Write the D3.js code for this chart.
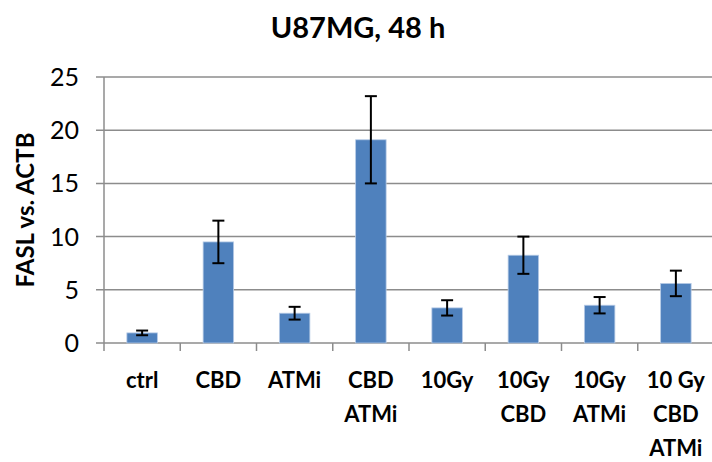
<!DOCTYPE html>
<html><head><meta charset="utf-8">
<script src="https://cdn.jsdelivr.net/npm/d3@7"></script>
<style>body{margin:0;background:#fff}svg{display:block}text{font-family:Lato,"Open Sans",sans-serif;font-weight:bold;fill:#000}</style>
</head><body><svg id="c" width="712" height="462"></svg>
<script>
const categories = [["ctrl"],["CBD"],["ATMi"],["CBD","ATMi"],["10Gy"],["10Gy","CBD"],["10Gy","ATMi"],["10 Gy","CBD","ATMi"]];
const values = [0.95, 9.5, 2.8, 19.1, 3.3, 8.25, 3.55, 5.6];
const errors = [0.22, 2.0, 0.6, 4.1, 0.72, 1.75, 0.77, 1.2];
const yTicks = [0, 5, 10, 15, 20, 25];
const title = "U87MG, 48 h";
const yTitle = "FASL vs. ACTB";

const svg = d3.select("#c");
const x = d3.scaleBand().domain(d3.range(categories.length)).range([104, 714]).paddingInner(0.6).paddingOuter(0.3);
const xb = d3.scaleBand().domain(d3.range(categories.length)).range([104, 714]);
const y = d3.scaleLinear().domain([0, 25]).range([343, 77]);

// gridlines
svg.append("g").selectAll("line").data(yTicks).join("line")
  .attr("x1", 96).attr("x2", 714).attr("y1", d => y(d)).attr("y2", d => y(d))
  .attr("stroke", "#8c8c8c").attr("stroke-width", 1.5);
// y axis line
svg.append("line").attr("x1", 104).attr("x2", 104).attr("y1", y(25)).attr("y2", y(0))
  .attr("stroke", "#8c8c8c").attr("stroke-width", 1.5);
// x ticks
svg.append("g").selectAll("line").data(d3.range(categories.length + 1)).join("line")
  .attr("x1", d => 104 + d * xb.bandwidth()).attr("x2", d => 104 + d * xb.bandwidth())
  .attr("y1", y(0)).attr("y2", y(0) + 8).attr("stroke", "#8c8c8c").attr("stroke-width", 1.5);

// y tick labels
svg.append("g").selectAll("text").data(yTicks).join("text")
  .attr("x", 79).attr("y", d => y(d)).attr("dy", "0.36em").attr("text-anchor", "end")
  .attr("font-size", 25).style("font-weight", "normal").text(d => d);

// bars
svg.append("g").selectAll("rect").data(values).join("rect")
  .attr("x", (d, i) => x(i)).attr("width", x.bandwidth())
  .attr("y", d => y(d)).attr("height", d => y(0) - y(d))
  .attr("fill", "#4f81bd").attr("stroke", "#b7cbe6").attr("stroke-width", 0.8);

// error bars
const eg = svg.append("g").attr("stroke", "#000").attr("stroke-width", 2);
values.forEach((v, i) => {
  const cx = x(i) + x.bandwidth() / 2;
  const t = y(v + errors[i]), b = y(v - errors[i]);
  eg.append("line").attr("x1", cx).attr("x2", cx).attr("y1", t).attr("y2", b);
  eg.append("line").attr("x1", cx - 6).attr("x2", cx + 6).attr("y1", t).attr("y2", t);
  eg.append("line").attr("x1", cx - 6).attr("x2", cx + 6).attr("y1", b).attr("y2", b);
});

// x labels
const xl = svg.append("g").selectAll("text").data(categories).join("text")
  .attr("x", (d, i) => xb(i) + xb.bandwidth() / 2).attr("y", 388)
  .attr("text-anchor", "middle").attr("font-size", 22);
xl.selectAll("tspan").data(d => d).join("tspan")
  .attr("x", function () { return d3.select(this.parentNode).attr("x"); })
  .attr("dy", (d, j) => j === 0 ? 0 : 34).text(d => d);

// title
svg.append("text").attr("x", 358).attr("y", 38).attr("text-anchor", "middle")
  .attr("font-size", 29).text(title);
// y title
svg.append("text").attr("transform", `translate(34,${(y(0) + y(25)) / 2}) rotate(-90)`)
  .attr("text-anchor", "middle").attr("font-size", 24).text(yTitle);
</script></body></html>
